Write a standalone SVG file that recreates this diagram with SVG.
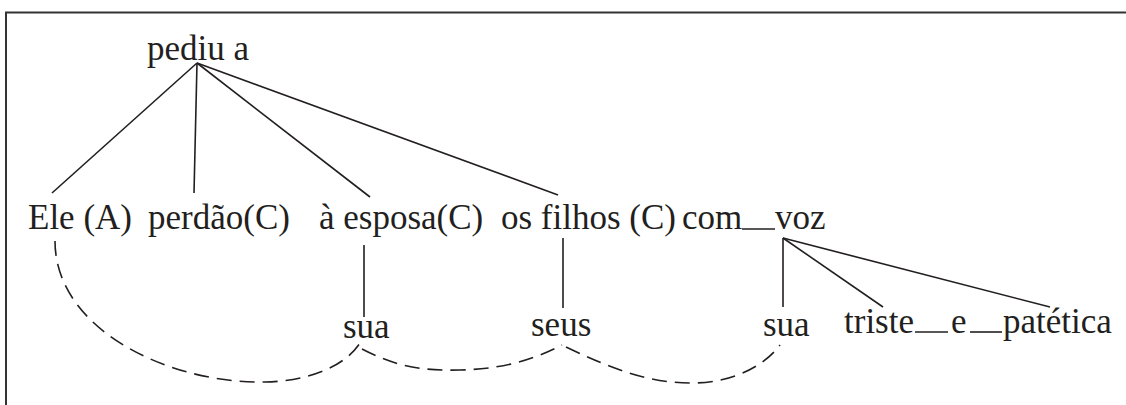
<svg xmlns="http://www.w3.org/2000/svg" width="1126" height="405" viewBox="0 0 1126 405">
  <style>
    .e { stroke: #231f20; stroke-width: 1.6; fill: none; }
    .d { stroke: #231f20; stroke-width: 1.6; fill: none; stroke-dasharray: 15 8; }
    .f { stroke: #333; stroke-width: 2; fill: none; }
  </style>
  <rect width="1126" height="405" fill="#ffffff"/>
  <g id="frame">
    <path class="f" d="M6,405 V12.5 H1126"/>
  </g>
  <g id="connectors">
    <line class="e" x1="197" y1="63" x2="52" y2="193"/>
    <line class="e" x1="197" y1="63" x2="194" y2="193"/>
    <line class="e" x1="197" y1="63" x2="370" y2="197"/>
    <line class="e" x1="197" y1="63" x2="558" y2="195"/>
    <line class="e" x1="364" y1="245" x2="364" y2="317"/>
    <line class="e" x1="563" y1="238" x2="563" y2="308"/>
    <line class="e" x1="783" y1="238" x2="783" y2="307"/>
    <line class="e" x1="783" y1="238" x2="883" y2="307"/>
    <line class="e" x1="783" y1="238" x2="1050" y2="307"/>
    <line class="e" x1="742" y1="229" x2="775" y2="229"/>
    <line class="e" x1="915" y1="332" x2="948" y2="332"/>
    <line class="e" x1="970" y1="332" x2="1002" y2="332"/>
    <path class="d" d="M55,241 C55,330 170,384 265,382 C310,381 345,366 360,343"/>
    <path class="d" d="M362,349 C395,366 420,371 460,370 C510,369 540,356 562,345"/>
    <path class="d" d="M566,347 C610,368 650,384 695,383 C735,382 765,365 780,345"/>
  </g>
  <g font-family="Liberation Serif" font-size="35" fill="#231f20">
    <g id="n-pediu"><text x="147" y="60">pediu a</text></g>
    <g id="n-ele"><text x="28" y="229">Ele (A)</text></g>
    <g id="n-perdao"><text x="148" y="229">perdão(C)</text></g>
    <g id="n-esposa"><text x="319" y="229">à esposa(C)</text></g>
    <g id="n-filhos"><text x="501" y="229">os filhos (C)</text></g>
    <g id="n-com"><text x="682" y="229">com</text></g>
    <g id="n-voz"><text x="775" y="229">voz</text></g>
    <g id="n-sua1"><text x="343" y="338">sua</text></g>
    <g id="n-seus"><text x="531" y="336">seus</text></g>
    <g id="n-sua2"><text x="763" y="336">sua</text></g>
    <g id="n-triste"><text x="844" y="333">triste</text></g>
    <g id="n-e"><text x="951" y="333">e</text></g>
    <g id="n-patetica"><text x="1003" y="333">patética</text></g>
  </g>
</svg>
